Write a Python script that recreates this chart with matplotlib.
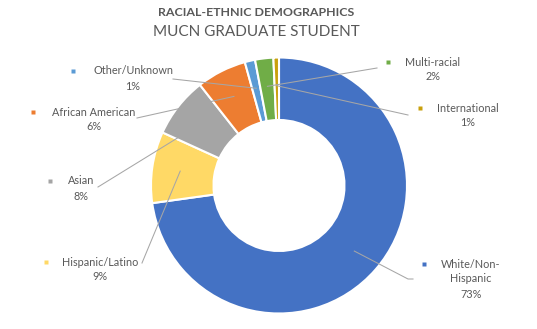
import numpy as np
import matplotlib
matplotlib.use("Agg")
import matplotlib.pyplot as plt

# shares of graduate students by group (percent)
categories = [
    "White/Non-Hispanic",
    "Hispanic/Latino",
    "Asian",
    "African American",
    "Other/Unknown",
    "Multi-racial",
    "International",
]
shares = [72.8, 9.0, 7.6, 6.3, 1.3, 2.3, 0.7]
colors = ["#4472C4", "#FFD966", "#A5A5A5", "#ED7D31", "#5B9BD5", "#70AD47", "#C9A00C"]

title_top = "RACIAL-ETHNIC DEMOGRAPHICS"
title_main = "MUCN GRADUATE STUDENT"

W, H = 537, 329
TEXT_COLOR = "#595959"
LINE_COLOR = "#A6A6A6"
FONT = "Lato"

# label layout in pixels from top-left: text centre x, first line y, marker x, leader end
label_layout = {
    "White/Non-Hispanic": dict(text="White/Non-\nHispanic", cx=471, y=264, mx=424, end=(408, 279), stub=5),
    "Hispanic/Latino": dict(text="Hispanic/Latino", cx=100, y=262, mx=46, end=(142, 263), stub=0),
    "Asian": dict(text="Asian", cx=81, y=181, mx=50, end=(98, 187), stub=0),
    "African American": dict(text="African American", cx=94, y=112, mx=33, end=(137, 118), stub=0),
    "Other/Unknown": dict(text="Other/Unknown", cx=133, y=71, mx=73, end=(173, 79), stub=0),
    "Multi-racial": dict(text="Multi-racial", cx=433, y=62, mx=388, end=(377, 68), stub=0),
    "International": dict(text="International", cx=468, y=108, mx=420, end=(408, 115), stub=0),
}


def px(x, y):
    # convert top-left pixel position to axes data coords
    return x, H - y


def main():
    fig = plt.figure(figsize=(W / 100, H / 100), dpi=100)
    ax = fig.add_axes([0, 0, 1, 1])

    center = px(279, 185.5)
    radius = 128

    wedges, _ = ax.pie(
        shares,
        colors=colors,
        startangle=90,
        counterclock=False,
        radius=radius,
        center=center,
        wedgeprops=dict(width=62.5, edgecolor="white", linewidth=1.5),
    )

    ax.set_xlim(0, W)
    ax.set_ylim(0, H)
    ax.set_aspect("equal")
    ax.axis("off")

    line_h = 15
    for cat, share, color, wedge in zip(categories, shares, colors, wedges):
        lay = label_layout[cat]
        mid = np.deg2rad((wedge.theta1 + wedge.theta2) / 2)
        r = 0.78 * radius
        x0 = center[0] + r * np.cos(mid)
        y0 = center[1] + r * np.sin(mid)
        ex, ey = px(*lay["end"])
        xs = [x0, ex]
        ys = [y0, ey]
        if lay["stub"]:
            xs.append(ex + lay["stub"])
            ys.append(ey)
        ax.plot(xs, ys, color=LINE_COLOR, lw=0.75, zorder=3)

        lines = lay["text"].split("\n") + [f"{share:.0f}%"]
        for i, s in enumerate(lines):
            tx, ty = px(lay["cx"], lay["y"] + i * line_h)
            ax.text(tx, ty, s, ha="center", va="center", fontsize=7.8,
                    color=TEXT_COLOR, family=FONT)
        mx, my = px(lay["mx"], lay["y"])
        ax.plot(mx, my, marker="s", ms=3.2, color=color, mec="none", zorder=4)

    tx, ty = px(256, 12)
    ax.text(tx, ty, title_top, ha="center", va="center", fontsize=8.9,
            fontweight="bold", color=TEXT_COLOR, family=FONT)
    tx, ty = px(256, 32)
    ax.text(tx, ty, title_main, ha="center", va="center", fontsize=11,
            color=TEXT_COLOR, family=FONT)

    fig.savefig("out.png", dpi=100)


if __name__ == "__main__":
    main()
